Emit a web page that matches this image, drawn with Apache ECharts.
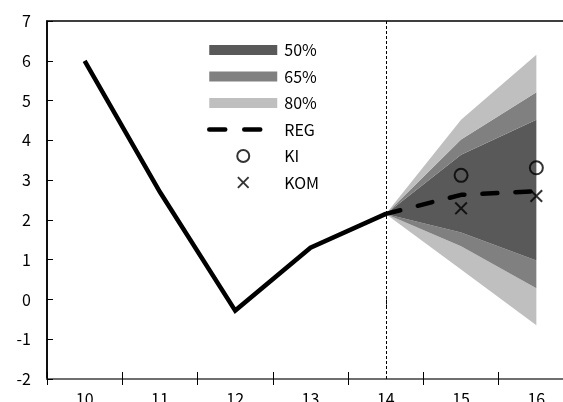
<!DOCTYPE html>
<html>
<head>
<meta charset="utf-8">
<script src="https://cdn.jsdelivr.net/npm/echarts@6/dist/echarts.min.js"></script>
<style>
html,body{margin:0;padding:0;background:#fff;}
#chart{width:563px;height:402px;}
</style>
</head>
<body>
<div id="chart"></div>
<script>
const categories = ['10', '11', '12', '13', '14', '15', '16'];
const actual = [6.0, 2.7, -0.28, 1.3, 2.15, null, null];
const reg = [null, null, null, null, 2.15, 2.63, 2.72];
const ki = [null, null, null, null, null, 3.12, 3.31];
const kom = [null, null, null, null, null, 2.29, 2.6];
const lo80 = [null, null, null, null, 2.15, 0.75, -0.65];
const lo65 = [null, null, null, null, 2.15, 1.34, 0.28];
const lo50 = [null, null, null, null, 2.15, 1.68, 0.98];
const hi50 = [null, null, null, null, 2.15, 3.64, 4.52];
const hi65 = [null, null, null, null, 2.15, 4.02, 5.21];
const hi80 = [null, null, null, null, 2.15, 4.52, 6.15];
const yTicks = [-2, -1, 0, 1, 2, 3, 4, 5, 6, 7];

const FONT = "'Noto Sans CJK JP','Liberation Sans',sans-serif";
const C50 = '#595959', C65 = '#808080', C80 = '#bfbfbf';

function diff(a, b) { return a.map((v, i) => (v == null || b[i] == null) ? '-' : +(v - b[i]).toFixed(4)); }
function dash(a) { return a.map(v => v == null ? '-' : v); }

function band(name, data, color) {
  return {
    name: name, type: 'line', stack: 'fan', stackStrategy: 'all', data: data, symbol: 'none',
    color: color, itemStyle: {color: color},
    lineStyle: {width: 0, opacity: 0},
    areaStyle: {color: color, opacity: 1},
    emphasis: {disabled: true}, silent: true, z: 1
  };
}

const crossPath = 'path://M0,1.3L1.3,0L6,4.7L10.7,0L12,1.3L7.3,6L12,10.7L10.7,12L6,7.3L1.3,12L0,10.7L4.7,6Z';
const swatchPath = 'path://M0,0H68V10H0Z';

const chart = echarts.init(document.getElementById('chart'), null, {renderer: 'canvas'});
chart.setOption({
  animation: false,
  backgroundColor: '#fff',
  textStyle: {fontFamily: FONT},
  grid: {left: 47, top: 21, height: 358, width: 527, containLabel: false, outerBoundsMode: 'none',
    show: true, borderColor: '#000', borderWidth: 1.5, backgroundColor: 'transparent'},
  legend: {
    orient: 'vertical', left: 207, top: 42, padding: 0,
    itemWidth: 68, itemHeight: 12, itemGap: 10.5,
    textStyle: {fontFamily: FONT, fontSize: 16, color: '#000', lineHeight: 16, padding: [0, 0, 0, 2]},
    data: [
      {name: '50%', icon: swatchPath},
      {name: '65%', icon: swatchPath},
      {name: '80%', icon: swatchPath},
      {name: 'REG', itemStyle: {opacity: 0}, lineStyle: {width: 4.5, type: [16, 19], cap: 'round'}},
      {name: 'KI'},
      {name: 'KOM'}
    ],
    selectedMode: false
  },
  xAxis: [
    {
      type: 'category', data: categories, position: 'bottom', boundaryGap: true,
      axisLine: {show: false},
      axisTick: {show: true, alignWithLabel: true, interval: function (i) { return i === 4; }, length: 9, inside: false,
        lineStyle: {color: '#000', width: 1, type: [3, 2]}},
      axisLabel: {fontFamily: FONT, fontSize: 16, color: '#000', margin: 12, interval: 0},
      splitLine: {show: false}
    },
    {
      type: 'category', data: categories, position: 'bottom', boundaryGap: true,
      axisLine: {show: true, onZero: true, lineStyle: {color: '#808080', width: 1.5}},
      axisTick: {show: true, inside: false, length: 6, lineStyle: {color: '#000', width: 1}},
      axisLabel: {show: false}, splitLine: {show: false}
    },
    {
      type: 'category', data: categories, position: 'bottom', boundaryGap: true,
      axisLine: {show: false, onZero: true},
      axisTick: {show: true, inside: true, length: 7, lineStyle: {color: '#000', width: 1}},
      axisLabel: {show: false}, splitLine: {show: false}
    }
  ],
  yAxis: {
    type: 'value', min: -2, max: 7, interval: 1,
    axisLine: {show: true, lineStyle: {color: '#000', width: 1.5}},
    axisTick: {show: true, inside: true, length: 6, lineStyle: {color: '#000', width: 1}},
    axisLabel: {fontFamily: FONT, fontSize: 16, color: '#000', margin: 16,
      formatter: function (v) { return yTicks.indexOf(v) >= 0 ? String(v) : ''; }},
    splitLine: {show: false}
  },
  series: [
    {name: 'base', type: 'line', stack: 'fan', stackStrategy: 'all', data: dash(lo80), symbol: 'none',
      lineStyle: {width: 0, opacity: 0}, silent: true, z: 1},
    band('80%', diff(lo65, lo80), C80),
    band('65%', diff(lo50, lo65), C65),
    band('50%', diff(hi50, lo50), C50),
    band('65%', diff(hi65, hi50), C65),
    band('80%', diff(hi80, hi65), C80),
    {name: 'actual', type: 'line', data: dash(actual), symbol: 'none', z: 5,
      lineStyle: {color: '#000', width: 4.5, join: 'miter'}, color: '#000',
      markLine: {silent: true, symbol: 'none', label: {show: false},
        lineStyle: {color: '#000', width: 1, type: [3, 2]},
        data: [{xAxis: '14'}]}},
    {name: 'REG', type: 'line', data: dash(reg), symbol: 'none', z: 5, color: '#000',
      itemStyle: {color: '#000'},
      lineStyle: {color: '#000', width: 4.5, type: [15, 18], cap: 'round'}},
    {name: 'KI', type: 'scatter', data: dash(ki), symbol: 'circle', symbolSize: 13, z: 6,
      itemStyle: {color: 'rgba(0,0,0,0)', borderColor: '#000', borderWidth: 2}},
    {name: 'KOM', type: 'scatter', data: dash(kom), symbol: crossPath, symbolSize: 13, z: 6,
      itemStyle: {color: '#000'}}
  ]
});
</script>
</body>
</html>
